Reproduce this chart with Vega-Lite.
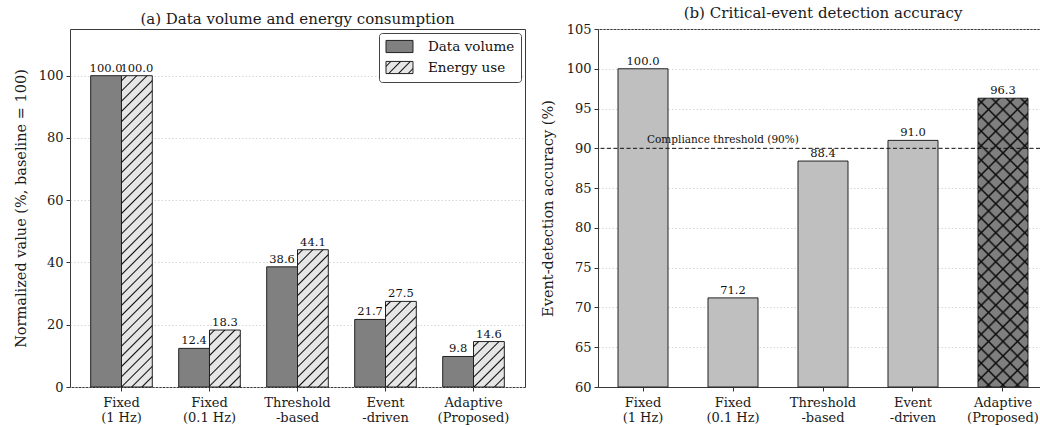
{
  "$schema": "https://vega.github.io/schema/vega-lite/v6.json",
  "padding": {"left": 12, "top": 5, "right": 0, "bottom": 0},
  "background": "white",
  "params": [
    {"name": "ls", "value": [{"offset": 0, "color": "#e6e6e6"}, {"offset": 0.09, "color": "#e6e6e6"}, {"offset": 0.125, "color": "#111"}, {"offset": 0.16, "color": "#e6e6e6"}, {"offset": 0.34, "color": "#e6e6e6"}, {"offset": 0.375, "color": "#111"}, {"offset": 0.41, "color": "#e6e6e6"}, {"offset": 0.59, "color": "#e6e6e6"}, {"offset": 0.625, "color": "#111"}, {"offset": 0.66, "color": "#e6e6e6"}, {"offset": 0.84, "color": "#e6e6e6"}, {"offset": 0.875, "color": "#111"}, {"offset": 0.91, "color": "#e6e6e6"}, {"offset": 1, "color": "#e6e6e6"}]},
    {"name": "hs", "value": [
      {"offset":0.0105,"color":"rgba(0,0,0,0)"},{"offset":0.0147,"color":"#111"},{"offset":0.0189,"color":"rgba(0,0,0,0)"},
      {"offset":0.0399,"color":"rgba(0,0,0,0)"},{"offset":0.0441,"color":"#111"},{"offset":0.0483,"color":"rgba(0,0,0,0)"},
      {"offset":0.0693,"color":"rgba(0,0,0,0)"},{"offset":0.0735,"color":"#111"},{"offset":0.0777,"color":"rgba(0,0,0,0)"},
      {"offset":0.0987,"color":"rgba(0,0,0,0)"},{"offset":0.1029,"color":"#111"},{"offset":0.1071,"color":"rgba(0,0,0,0)"},
      {"offset":0.1282,"color":"rgba(0,0,0,0)"},{"offset":0.1324,"color":"#111"},{"offset":0.1366,"color":"rgba(0,0,0,0)"},
      {"offset":0.1576,"color":"rgba(0,0,0,0)"},{"offset":0.1618,"color":"#111"},{"offset":0.1660,"color":"rgba(0,0,0,0)"},
      {"offset":0.1870,"color":"rgba(0,0,0,0)"},{"offset":0.1912,"color":"#111"},{"offset":0.1954,"color":"rgba(0,0,0,0)"},
      {"offset":0.2164,"color":"rgba(0,0,0,0)"},{"offset":0.2206,"color":"#111"},{"offset":0.2248,"color":"rgba(0,0,0,0)"},
      {"offset":0.2458,"color":"rgba(0,0,0,0)"},{"offset":0.2500,"color":"#111"},{"offset":0.2542,"color":"rgba(0,0,0,0)"},
      {"offset":0.2752,"color":"rgba(0,0,0,0)"},{"offset":0.2794,"color":"#111"},{"offset":0.2836,"color":"rgba(0,0,0,0)"},
      {"offset":0.3046,"color":"rgba(0,0,0,0)"},{"offset":0.3088,"color":"#111"},{"offset":0.3130,"color":"rgba(0,0,0,0)"},
      {"offset":0.3340,"color":"rgba(0,0,0,0)"},{"offset":0.3382,"color":"#111"},{"offset":0.3424,"color":"rgba(0,0,0,0)"},
      {"offset":0.3635,"color":"rgba(0,0,0,0)"},{"offset":0.3676,"color":"#111"},{"offset":0.3718,"color":"rgba(0,0,0,0)"},
      {"offset":0.3929,"color":"rgba(0,0,0,0)"},{"offset":0.3971,"color":"#111"},{"offset":0.4013,"color":"rgba(0,0,0,0)"},
      {"offset":0.4223,"color":"rgba(0,0,0,0)"},{"offset":0.4265,"color":"#111"},{"offset":0.4307,"color":"rgba(0,0,0,0)"},
      {"offset":0.4517,"color":"rgba(0,0,0,0)"},{"offset":0.4559,"color":"#111"},{"offset":0.4601,"color":"rgba(0,0,0,0)"},
      {"offset":0.4811,"color":"rgba(0,0,0,0)"},{"offset":0.4853,"color":"#111"},{"offset":0.4895,"color":"rgba(0,0,0,0)"},
      {"offset":0.5105,"color":"rgba(0,0,0,0)"},{"offset":0.5147,"color":"#111"},{"offset":0.5189,"color":"rgba(0,0,0,0)"},
      {"offset":0.5399,"color":"rgba(0,0,0,0)"},{"offset":0.5441,"color":"#111"},{"offset":0.5483,"color":"rgba(0,0,0,0)"},
      {"offset":0.5693,"color":"rgba(0,0,0,0)"},{"offset":0.5735,"color":"#111"},{"offset":0.5777,"color":"rgba(0,0,0,0)"},
      {"offset":0.5987,"color":"rgba(0,0,0,0)"},{"offset":0.6029,"color":"#111"},{"offset":0.6071,"color":"rgba(0,0,0,0)"},
      {"offset":0.6282,"color":"rgba(0,0,0,0)"},{"offset":0.6324,"color":"#111"},{"offset":0.6366,"color":"rgba(0,0,0,0)"},
      {"offset":0.6576,"color":"rgba(0,0,0,0)"},{"offset":0.6618,"color":"#111"},{"offset":0.6660,"color":"rgba(0,0,0,0)"},
      {"offset":0.6870,"color":"rgba(0,0,0,0)"},{"offset":0.6912,"color":"#111"},{"offset":0.6954,"color":"rgba(0,0,0,0)"},
      {"offset":0.7164,"color":"rgba(0,0,0,0)"},{"offset":0.7206,"color":"#111"},{"offset":0.7248,"color":"rgba(0,0,0,0)"},
      {"offset":0.7458,"color":"rgba(0,0,0,0)"},{"offset":0.7500,"color":"#111"},{"offset":0.7542,"color":"rgba(0,0,0,0)"},
      {"offset":0.7752,"color":"rgba(0,0,0,0)"},{"offset":0.7794,"color":"#111"},{"offset":0.7836,"color":"rgba(0,0,0,0)"},
      {"offset":0.8046,"color":"rgba(0,0,0,0)"},{"offset":0.8088,"color":"#111"},{"offset":0.8130,"color":"rgba(0,0,0,0)"},
      {"offset":0.8340,"color":"rgba(0,0,0,0)"},{"offset":0.8382,"color":"#111"},{"offset":0.8424,"color":"rgba(0,0,0,0)"},
      {"offset":0.8635,"color":"rgba(0,0,0,0)"},{"offset":0.8676,"color":"#111"},{"offset":0.8718,"color":"rgba(0,0,0,0)"},
      {"offset":0.8929,"color":"rgba(0,0,0,0)"},{"offset":0.8971,"color":"#111"},{"offset":0.9013,"color":"rgba(0,0,0,0)"},
      {"offset":0.9223,"color":"rgba(0,0,0,0)"},{"offset":0.9265,"color":"#111"},{"offset":0.9307,"color":"rgba(0,0,0,0)"},
      {"offset":0.9517,"color":"rgba(0,0,0,0)"},{"offset":0.9559,"color":"#111"},{"offset":0.9601,"color":"rgba(0,0,0,0)"},
      {"offset":0.9811,"color":"rgba(0,0,0,0)"},{"offset":0.9853,"color":"#111"},{"offset":0.9895,"color":"rgba(0,0,0,0)"}
    ]}
  ],
  "datasets": {
    "vol": [
      {"method": "Fixed\n(1 Hz)", "series": "Data volume", "value": 100.0},
      {"method": "Fixed\n(1 Hz)", "series": "Energy use", "value": 100.0},
      {"method": "Fixed\n(0.1 Hz)", "series": "Data volume", "value": 12.4},
      {"method": "Fixed\n(0.1 Hz)", "series": "Energy use", "value": 18.3},
      {"method": "Threshold\n-based", "series": "Data volume", "value": 38.6},
      {"method": "Threshold\n-based", "series": "Energy use", "value": 44.1},
      {"method": "Event\n-driven", "series": "Data volume", "value": 21.7},
      {"method": "Event\n-driven", "series": "Energy use", "value": 27.5},
      {"method": "Adaptive\n(Proposed)", "series": "Data volume", "value": 9.8},
      {"method": "Adaptive\n(Proposed)", "series": "Energy use", "value": 14.6}
    ],
    "acc": [
      {"method": "Fixed\n(1 Hz)", "accuracy": 100.0},
      {"method": "Fixed\n(0.1 Hz)", "accuracy": 71.2},
      {"method": "Threshold\n-based", "accuracy": 88.4},
      {"method": "Event\n-driven", "accuracy": 91.0},
      {"method": "Adaptive\n(Proposed)", "accuracy": 96.3}
    ],
    "thr": [
      {"method": "Fixed\n(1 Hz)", "threshold": 90, "label": "Compliance threshold (90%)"}
    ]
  },
  "spacing": 13,
  "resolve": {"scale": {"fill": "independent"}, "legend": {"fill": "independent"}},
  "hconcat": [
    {
      "width": 455,
      "height": 358,
      "view": {"stroke": "#3a3a3a", "strokeWidth": 1},
      "title": {"text": "(a) Data volume and energy consumption"},
      "data": {"name": "vol"},
      "encoding": {
        "x": {"field": "method", "type": "nominal",
              "scale": {"domain": ["Fixed\n(1 Hz)", "Fixed\n(0.1 Hz)", "Threshold\n-based", "Event\n-driven", "Adaptive\n(Proposed)"], "paddingInner": 0.3, "paddingOuter": 0.235},
              "axis": {"title": null, "labelExpr": "split(datum.label, '\\n')"}},
        "xOffset": {"field": "series", "type": "nominal", "scale": {"domain": ["Data volume", "Energy use"], "paddingInner": 0, "paddingOuter": 0}},
        "y": {"field": "value", "type": "quantitative", "scale": {"domain": [0, 115], "nice": false},
              "axis": {"values": [0, 20, 40, 60, 80, 100], "title": "Normalized value (%, baseline = 100)"}}
      },
      "layer": [
        {
          "transform": [{"filter": "datum.series === 'Data volume'"}],
          "mark": {"type": "bar", "stroke": "#222", "strokeWidth": 1},
          "encoding": {
            "fill": {"field": "series", "type": "nominal",
                     "scale": {"domain": ["Data volume", "Energy use"], "range": ["#808080", {"expr": "{gradient: 'linear', x1: 0, y1: 0, x2: 1.206, y2: 0.536, stops: ls}"}]},
                     "legend": {
                       "title": null, "orient": "top-right", "offset": 4, "padding": 6,
                       "strokeColor": "#444", "fillColor": "white", "cornerRadius": 3,
                       "labelFont": "DejaVu Serif", "labelFontSize": 13.5, "labelColor": "#111",
                       "symbolType": "M-2,-0.9H2V0.9H-2Z", "symbolSize": 182, "symbolStrokeColor": "#222", "symbolStrokeWidth": 1,
                       "symbolOffset": 7, "labelOffset": 21, "rowPadding": 4
                     }}
          }
        },
        {
          "transform": [{"filter": "datum.series === 'Energy use'"}],
          "mark": {"type": "bar", "stroke": "#222", "strokeWidth": 1, "fill": "#e6e6e6"}
        },
        {"transform": [{"filter": "datum.series === 'Energy use' && datum.value === 100"}],
         "mark": {"type": "bar", "fill": {"expr": "{gradient: 'linear', x1: 0, y1: 0, x2: 0.1092, y2: 1.1039, stops: hs}"}}},
        {"transform": [{"filter": "datum.series === 'Energy use' && datum.value === 18.3"}],
         "mark": {"type": "bar", "fill": {"expr": "{gradient: 'linear', x1: 0, y1: 0, x2: 2.5461, y2: 4.7120, stops: hs}"}}},
        {"transform": [{"filter": "datum.series === 'Energy use' && datum.value === 44.1"}],
         "mark": {"type": "bar", "fill": {"expr": "{gradient: 'linear', x1: 0, y1: 0, x2: 0.5398, y2: 2.4062, stops: hs}"}}},
        {"transform": [{"filter": "datum.series === 'Energy use' && datum.value === 27.5"}],
         "mark": {"type": "bar", "fill": {"expr": "{gradient: 'linear', x1: 0, y1: 0, x2: 1.2914, y2: 3.5891, stops: hs}"}}},
        {"transform": [{"filter": "datum.series === 'Energy use' && datum.value === 14.6"}],
         "mark": {"type": "bar", "fill": {"expr": "{gradient: 'linear', x1: 0, y1: 0, x2: 3.5401, y2: 5.2299, stops: hs}"}}},
        {
          "mark": {"type": "text", "baseline": "bottom", "dy": -2, "fontSize": 11.5, "font": "DejaVu Serif", "color": "#111"},
          "encoding": {"text": {"field": "value", "type": "quantitative", "format": ".1f"}}
        }
      ]
    },
    {
      "width": 442,
      "height": 358,
      "view": {"stroke": "#3a3a3a", "strokeWidth": 1},
      "title": {"text": "(b) Critical-event detection accuracy", "dx": 4},
      "layer": [
        {
          "data": {"name": "acc"},
          "mark": {"type": "bar", "stroke": "#222", "strokeWidth": 1},
          "encoding": {
            "x": {"field": "method", "type": "nominal",
                  "scale": {"domain": ["Fixed\n(1 Hz)", "Fixed\n(0.1 Hz)", "Threshold\n-based", "Event\n-driven", "Adaptive\n(Proposed)"], "paddingInner": 0.4444, "paddingOuter": 0.1778, "align": 0.625},
                  "axis": {"title": null, "labelExpr": "split(datum.label, '\\n')", "domain": true}},
            "y": {"field": "accuracy", "type": "quantitative", "scale": {"domain": [60, 105], "nice": false, "zero": false},
                  "axis": {"values": [60, 65, 70, 75, 80, 85, 90, 95, 100, 105], "title": "Event-detection accuracy (%)", "titlePadding": 11, "domain": true}},
            "y2": {"datum": 60},
            "fill": {"condition": {"test": "datum.accuracy === 96.3", "value": "#7f7f7f"}, "value": "#bfbfbf"}
          }
        },
        {
          "data": {"name": "acc"},
          "transform": [{"filter": "datum.accuracy === 96.3"}],
          "mark": {"type": "bar", "fill": {"expr": "{gradient: 'linear', x1: 0, y1: 0, x2: 0.2869, y2: 1.6574, stops: hs}"}},
          "encoding": {
            "x": {"field": "method", "type": "nominal", "axis": {"title": null, "labelExpr": "split(datum.label, '\\n')", "domain": true}},
            "y": {"field": "accuracy", "type": "quantitative", "axis": {"values": [60, 65, 70, 75, 80, 85, 90, 95, 100, 105], "title": "Event-detection accuracy (%)", "titlePadding": 11, "domain": true}},
            "y2": {"datum": 60}
          }
        },
        {
          "data": {"name": "acc"},
          "transform": [{"filter": "datum.accuracy === 96.3"}],
          "mark": {"type": "bar", "fill": {"expr": "{gradient: 'linear', x1: 1, y1: 0, x2: 0.7131, y2: 1.6574, stops: hs}"}},
          "encoding": {
            "x": {"field": "method", "type": "nominal", "axis": {"title": null, "labelExpr": "split(datum.label, '\\n')", "domain": true}},
            "y": {"field": "accuracy", "type": "quantitative", "axis": {"values": [60, 65, 70, 75, 80, 85, 90, 95, 100, 105], "title": "Event-detection accuracy (%)", "titlePadding": 11, "domain": true}},
            "y2": {"datum": 60}
          }
        },
        {
          "data": {"name": "acc"},
          "mark": {"type": "text", "baseline": "bottom", "dy": -2, "fontSize": 11.5, "font": "DejaVu Serif", "color": "#111"},
          "encoding": {
            "x": {"field": "method", "type": "nominal", "axis": {"title": null, "labelExpr": "split(datum.label, '\\n')", "domain": true}},
            "y": {"field": "accuracy", "type": "quantitative", "axis": {"values": [60, 65, 70, 75, 80, 85, 90, 95, 100, 105], "title": "Event-detection accuracy (%)", "titlePadding": 11, "domain": true}},
            "text": {"field": "accuracy", "type": "quantitative", "format": ".1f"}
          }
        },
        {
          "data": {"name": "thr"},
          "mark": {"type": "rule", "color": "#111", "strokeWidth": 1, "strokeDash": [4, 2.5]},
          "encoding": {
            "y": {"field": "threshold", "type": "quantitative", "axis": {"values": [60, 65, 70, 75, 80, 85, 90, 95, 100, 105], "title": "Event-detection accuracy (%)", "titlePadding": 11, "domain": true}}
          }
        },
        {
          "data": {"name": "thr"},
          "mark": {"type": "text", "align": "left", "baseline": "bottom", "dx": 4, "dy": -3, "fontSize": 10.5, "font": "DejaVu Serif", "color": "#111"},
          "encoding": {
            "x": {"field": "method", "type": "nominal", "axis": {"title": null, "labelExpr": "split(datum.label, '\\n')", "domain": true}},
            "y": {"field": "threshold", "type": "quantitative", "axis": {"values": [60, 65, 70, 75, 80, 85, 90, 95, 100, 105], "title": "Event-detection accuracy (%)", "titlePadding": 11, "domain": true}},
            "text": {"field": "label"}
          }
        }
      ]
    }
  ],
  "config": {
    "font": "DejaVu Serif",
    "view": {"stroke": "#3a3a3a", "strokeWidth": 1},
    "axis": {"labelFont": "DejaVu Serif", "labelFontSize": 13, "labelColor": "#1a1a1a", "titleFont": "DejaVu Serif", "titleFontSize": 14.5, "titleFontWeight": "normal", "titleColor": "#1a1a1a", "domain": false, "domainColor": "#3a3a3a", "domainWidth": 1, "tickColor": "#333", "tickSize": 4, "tickWidth": 1, "labelPadding": 3},
    "axisX": {"labelAngle": 0, "grid": false, "labelLineHeight": 15.5, "labelPadding": 5},
    "axisY": {"grid": true, "gridColor": "#cccccc", "gridDash": [1.5, 2], "gridWidth": 0.8, "titlePadding": 10},
    "title": {"font": "DejaVu Serif", "fontSize": 15, "fontWeight": "normal", "color": "#1a1a1a", "offset": 2}
  }
}
